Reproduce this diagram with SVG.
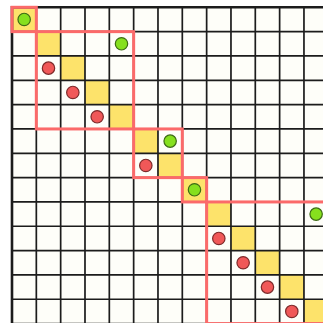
<svg xmlns="http://www.w3.org/2000/svg" width="323" height="323" viewBox="0 0 323 323">
<style>
.bg{fill:#fefef9}
.yc{fill:#fde36b}
.grid{fill:none;stroke:#1c1c1c;stroke-width:1.7}
.border{fill:none;stroke:#1c1c1c;stroke-width:2.6}
.blk{fill:none;stroke:#fb6a6a;stroke-width:3}
.g{fill:#86e01e;stroke:#3d6b14;stroke-width:1.2}
.r{fill:#f05858;stroke:#7e2a2a;stroke-width:1.2}
</style>
<rect width="323" height="323" fill="#ffffff"/>
<g transform="translate(12,7.3)">
<rect class="bg" x="0" y="0" width="316.29" height="316.29"/>
<g id="diagonal">
<rect class="yc" x="0" y="0" width="24.33" height="24.33"/>
<rect class="yc" x="24.33" y="24.33" width="24.33" height="24.33"/>
<rect class="yc" x="48.66" y="48.66" width="24.33" height="24.33"/>
<rect class="yc" x="72.99" y="72.99" width="24.33" height="24.33"/>
<rect class="yc" x="97.32" y="97.32" width="24.33" height="24.33"/>
<rect class="yc" x="121.65" y="121.65" width="24.33" height="24.33"/>
<rect class="yc" x="145.98" y="145.98" width="24.33" height="24.33"/>
<rect class="yc" x="170.31" y="170.31" width="24.33" height="24.33"/>
<rect class="yc" x="194.64" y="194.64" width="24.33" height="24.33"/>
<rect class="yc" x="218.97" y="218.97" width="24.33" height="24.33"/>
<rect class="yc" x="243.3" y="243.3" width="24.33" height="24.33"/>
<rect class="yc" x="267.63" y="267.63" width="24.33" height="24.33"/>
<rect class="yc" x="291.96" y="291.96" width="24.33" height="24.33"/>
</g>
<g id="connectors">
<path class="grid" d="M24.33 0V316.29M48.66 0V316.29M72.99 0V316.29M97.32 0V316.29M121.65 0V316.29M145.98 0V316.29M170.31 0V316.29M194.64 0V316.29M218.97 0V316.29M243.3 0V316.29M267.63 0V316.29M291.96 0V316.29M316.29 0V316.29M0 24.33H316.29M0 48.66H316.29M0 72.99H316.29M0 97.32H316.29M0 121.65H316.29M0 145.98H316.29M0 170.31H316.29M0 194.64H316.29M0 218.97H316.29M0 243.3H316.29M0 267.63H316.29M0 291.96H316.29M0 316.29H316.29"/>
<path class="border" d="M0 316.29V0H316.29"/>
</g>
<g id="block1">
<rect class="blk" x="0" y="0" width="24.33" height="24.33"/>
<circle class="g" cx="12.17" cy="12.17" r="6.2"/>
</g>
<g id="block2">
<rect class="blk" x="24.33" y="24.33" width="97.32" height="97.32"/>
<circle class="g" cx="109.49" cy="36.5" r="6.2"/>
<circle class="r" cx="36.5" cy="60.83" r="6.2"/>
<circle class="r" cx="60.83" cy="85.16" r="6.2"/>
<circle class="r" cx="85.16" cy="109.49" r="6.2"/>
</g>
<g id="block3">
<rect class="blk" x="121.65" y="121.65" width="48.66" height="48.66"/>
<circle class="g" cx="158.15" cy="133.82" r="6.2"/>
<circle class="r" cx="133.82" cy="158.15" r="6.2"/>
</g>
<g id="block4">
<rect class="blk" x="170.31" y="170.31" width="24.33" height="24.33"/>
<circle class="g" cx="182.48" cy="182.48" r="6.2"/>
</g>
<g id="block5">
<rect class="blk" x="194.64" y="194.64" width="121.65" height="121.65"/>
<circle class="g" cx="304.13" cy="206.81" r="6.2"/>
<circle class="r" cx="206.81" cy="231.14" r="6.2"/>
<circle class="r" cx="231.14" cy="255.47" r="6.2"/>
<circle class="r" cx="255.47" cy="279.8" r="6.2"/>
<circle class="r" cx="279.8" cy="304.13" r="6.2"/>
</g>
</g>
</svg>
